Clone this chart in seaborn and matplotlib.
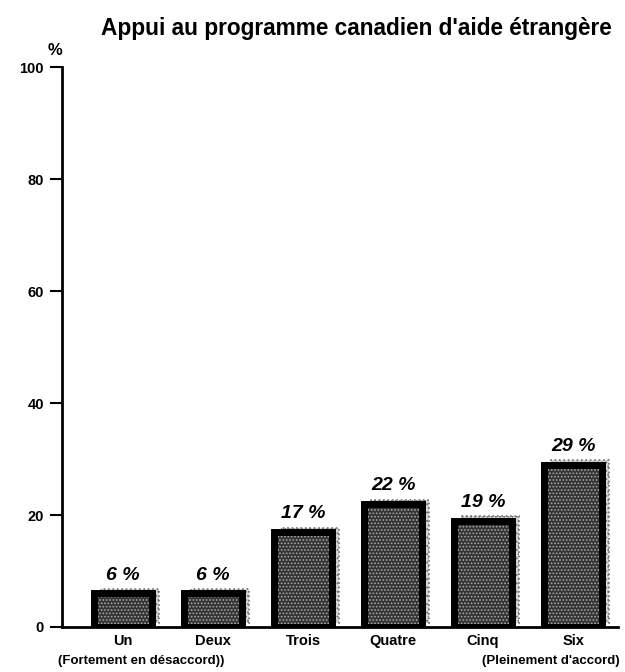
import matplotlib.pyplot as plt
import matplotlib.transforms as mtransforms
from matplotlib.patches import Rectangle
import seaborn as sns

# data
categories = ['Un', 'Deux', 'Trois', 'Quatre', 'Cinq', 'Six']
values = [6, 6, 17, 22, 19, 29]
y_ticks = [0, 20, 40, 60, 80, 100]

sns.set_style('white', {'text.color': 'black', 'axes.edgecolor': 'black',
                        'xtick.color': 'black', 'ytick.color': 'black',
                        'axes.labelcolor': 'black'})
plt.rcParams['font.family'] = ['Liberation Sans', 'DejaVu Sans']
plt.rcParams['hatch.linewidth'] = 0.8

fig = plt.figure(figsize=(6.25, 6.72), dpi=100)
ax = fig.add_axes([0.099, 0.067, 0.89, 0.833])

sns.barplot(x=categories, y=values, color='#333333', saturation=1,
            edgecolor='black', linewidth=0, width=0.64, ax=ax, zorder=3)

# dotted shadow behind, speckled texture and thick border on each bar
shift = ax.transData + mtransforms.ScaledTranslation(5 / 72, 3 / 72, fig.dpi_scale_trans)
for bar in list(ax.patches):
    x0, y0 = bar.get_xy()
    w, h = bar.get_width(), bar.get_height()
    shadow = Rectangle((x0, y0), w, h, facecolor='#d6d6d6', edgecolor='#707070',
                       lw=1.2, ls=':', hatch='....', transform=shift, zorder=2)
    ax.add_patch(shadow)
    tex = Rectangle((x0, y0), w, h, fill=False, edgecolor='#a8a8a8',
                    hatch='.....', lw=0, zorder=3.5)
    ax.add_patch(tex)
    edge = Rectangle((x0, y0), w, h, fill=False, edgecolor='black', lw=5, zorder=4)
    ax.add_patch(edge)

ax.bar_label(ax.containers[0], labels=[f'{v} %' for v in values], padding=7,
             fontsize=14, fontweight='bold', fontstyle='italic')

ax.set_ylim(0, 100)
ax.set_xlim(-0.68, 5.5)
ax.set_yticks(y_ticks)
ax.set_yticklabels([str(t) for t in y_ticks], fontsize=10.5, fontweight='bold')
ax.tick_params(axis='y', direction='out', length=9, width=1.5, left=True, pad=4)
ax.tick_params(axis='x', length=0, pad=5)
for lab in ax.get_xticklabels():
    lab.set_fontsize(10.5)
    lab.set_fontweight('bold')

sns.despine(ax=ax, top=True, right=True)
ax.spines['left'].set_linewidth(2)
ax.spines['bottom'].set_linewidth(2)

ax.text(-0.013, 1.03, '%', transform=ax.transAxes, fontsize=12, fontweight='bold',
        ha='center', va='center')

trans = mtransforms.blended_transform_factory(ax.transData, ax.transAxes)
ax.text(0.2, -0.05, '(Fortement en désaccord))', transform=trans, fontsize=9.5,
        fontweight='bold', ha='center', va='top')
ax.text(4.75, -0.05, "(Pleinement d'accord)", transform=trans, fontsize=9.5,
        fontweight='bold', ha='center', va='top')

fig.text(0.57, 0.958, "Appui au programme canadien d'aide étrangère",
         fontsize=16.3, fontweight='bold', ha='center', va='center')

fig.savefig('out.png', dpi=100)
